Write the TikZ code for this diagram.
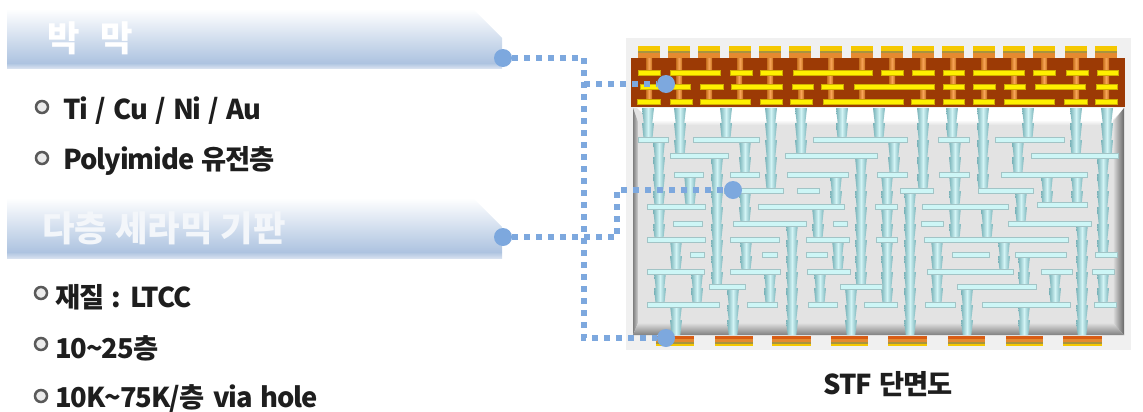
\documentclass[tikz,border=0pt]{standalone}
\usepackage{fontspec}
\setmainfont{Noto Sans CJK KR}[LetterSpace=-4, WordSpace=1.4]
\newfontfamily\bannerfont{Noto Sans CJK KR}
\usetikzlibrary{positioning, calc}
\definecolor{linkblue}{HTML}{7DA8DE}
\definecolor{bannerblue}{HTML}{ADC3E0}
\definecolor{bannerfoot}{HTML}{D6E0EF}
\definecolor{viamid}{HTML}{D2F4F5}
\definecolor{viaedge}{HTML}{78B2B8}
\definecolor{barfill}{HTML}{CDF6F6}
\definecolor{baredge}{HTML}{A2C4C6}
\definecolor{brickred}{HTML}{9C3A05}
\definecolor{metalyellow}{HTML}{FFF000}
\definecolor{metaledge}{HTML}{D0B000}
\definecolor{metalorange}{HTML}{F9A558}
\definecolor{metaldark}{HTML}{C8701E}
\definecolor{padgold}{HTML}{F5C800}
\definecolor{padolive}{HTML}{A89440}
\definecolor{padorange}{HTML}{E58A30}
\definecolor{padred}{HTML}{D85C14}
\definecolor{bodygrey}{HTML}{E3E3E3}
\definecolor{inktext}{HTML}{1E1E1E}
\def\viaLevels{{108,123,140,157,174,191,207,224,240,256,272,288,305,320,335}}

\begin{document}
\begin{tikzpicture}[
        x=0.75pt, y=-0.75pt,
        bannerbody/.style={top color=white, bottom color=bannerblue, draw=none},
        bannerbase/.style={top color=bannerblue, bottom color=bannerfoot, draw=none},
        bannertext/.style={anchor=west, inner sep=0pt, text=white, font=\bannerfont\fontsize{26.5}{30}\selectfont\bfseries},
        itemtext/.style={anchor=west, inner sep=0pt, text=inktext, font=\fontsize{20.5}{24}\selectfont\bfseries},
        itemdot/.style={circle, draw=black!65, line width=1.9pt, fill=black!8, minimum size=9pt, inner sep=0pt},
        linkdot/.style={circle, fill=linkblue, minimum size=13.5pt, inner sep=0pt},
        linkline/.style={draw=linkblue, line width=4.4pt, dash pattern=on 4.4pt off 4.6pt},
        viaseg/.style={left color=viaedge, right color=viaedge, middle color=viamid, draw=none},
        viabar/.style={fill=barfill, draw=baredge, line width=0.5pt},
        metalbar/.style={fill=metalyellow, draw=metaledge, line width=0.6pt},
        metalvia/.style={left color=metaldark, right color=metaldark, middle color=metalorange, draw=none}
    ]
    \useasboundingbox (0,0) rectangle (1143,411);

    % Banners
    \path[bannerbody] (7,9) -- (473,9) -- (502,38) -- (502,63) -- (7,63) -- cycle;
    \path[bannerbase] (7,63) rectangle (502,68);
    \path[bannerbody] (7,198) -- (473,198) -- (502,227) -- (502,252) -- (7,252) -- cycle;
    \path[bannerbase] (7,252) rectangle (502,258);
    \node[bannertext] (thinfilm) at (47,38) {박\hspace{0.6em}막};
    \node[bannertext, text=white!85!bannerblue] (ceramic) at (42,228) {다층 세라믹 기판};

    % Items
    \node[itemdot] (dotA) at (42,107) {};
    \node[itemtext] (itemA) at (63,111) {Ti / Cu / Ni / Au};
    \node[itemdot] (dotB) at (42,158) {};
    \node[itemtext] (itemB) at (63,161) {Polyimide 유전층};
    \node[itemdot] (dotC) at (41,293) {};
    \node[itemtext] (itemC) at (55,297) {재질 : LTCC};
    \node[itemdot] (dotD) at (41,344) {};
    \node[itemtext] (itemD) at (55,348) {10\textasciitilde25층};
    \node[itemdot] (dotE) at (41,396) {};
    \node[itemtext] (itemE) at (55,399) {10K\textasciitilde75K/층\hspace{0.33em}via hole};

    % Cross section body
    \fill[black!6] (626,38) rectangle (1131,350);
    \fill[bodygrey] (633,108) rectangle (1124,335);
    \fill[white] (637,108) -- (1124,108) -- (1113,120) -- (650,120) -- cycle;
    \path[top color=white, bottom color=bodygrey] (650,120) rectangle (1113,125);
    \path[left color=black!50, right color=black!18] (633,108) -- (638,122) -- (638,323) -- (633,335) -- cycle;
    \path[left color=black!12, right color=black!60] (1113,122) -- (1124,108) -- (1124,335) -- (1113,323) -- cycle;
    \path[top color=black!12, bottom color=black!50] (638,323) -- (1113,323) -- (1124,335) -- (633,335) -- cycle;

    % Ceramic vias
    \foreach \vx/\va/\vb in {648/0/2, 680/0/3, 726/0/2, 771/0/5, 801/0/3, 842/0/2, 879/0/2, 923/0/5,
        952/0/2, 983/0/5, 1028/0/2, 1076/0/3, 1107/0/3, 659/2/8, 745/2/4, 894/2/4, 955/2/8, 1018/2/4,
        717/3/11, 861/3/11, 1103/3/9, 690/4/6, 836/4/6, 887/4/12, 1047/4/6, 1077/4/6,
        745/5/7, 910/5/14, 1021/5/7, 818/6/8, 987/6/8, 792/7/14, 1082/7/14,
        676/8/10, 746/8/10, 838/8/10, 937/8/12, 1004/8/10, 1024/9/11,
        660/10/12, 697/10/12, 770/10/12, 820/10/12, 1055/10/12, 1103/10/12,
        733/11/14, 851/11/14, 967/11/14, 676/12/14, 1024/12/14} {
        \pgfmathtruncatemacro\vlast{\vb-1}
        \foreach \s in {\va,...,\vlast} {
            \pgfmathsetmacro\ytop{\viaLevels[\s]}
            \pgfmathsetmacro\ybot{\viaLevels[\s+1]}
            \path[viaseg] (\vx-6,\ytop) -- (\vx+6,\ytop) -- (\vx+4.3,\ybot) -- (\vx-4.3,\ybot) -- cycle;
        }
    }

    % Ceramic bars
    \foreach \by/\bl in {
        140/{638/668, 693/759, 813/907, 938/969, 995/1064},
        156/{670/728, 785/877, 1031/1118},
        175/{674/703, 730/759, 787/848, 877/907, 939/969, 1001/1087},
        191/{724/783, 797/819, 900/933, 978/1033},
        207/{647/705, 758/844, 875/897, 922/1008},
        205/{1037/1087},
        224/{673/702, 733/806, 833/847, 921/943, 1008/1091},
        240/{647/705, 730/779, 806/849, 876/897, 924/1068},
        255/{690/704, 762/777, 806/827, 952/989, 1015/1066, 1095/1117},
        272/{647/704, 730/780, 807/850, 927/1013, 1041/1072, 1092/1114},
        287/{709/745, 840/882, 957/1036},
        305/{647/719, 747/777, 808/837, 864/897, 925/955, 982/1070, 1094/1116}} {
        \foreach \xa/\xb in \bl {
            \path[viabar] (\xa,\by-2.5) rectangle (\xb,\by+2.5);
        }
    }

    % Thin film layer
    \fill[brickred] (631,58) rectangle (1125,107);
    \foreach \px in {649,679,709,740,770,800,831,862,892,923,953,984,1014,1044,1076,1106} {
        \fill[padorange] (\px-11,53) rectangle (\px+11,58);
        \fill[padolive] (\px-11,51) rectangle (\px+11,53);
        \fill[padgold] (\px-11,46) rectangle (\px+11,51);
        \path[metalvia] (\px-3,58) rectangle (\px+3,72);
    }
    \foreach \px in {679,739,770,830,892,953,1014,1044,1076,1106} {
        \path[metalvia] (\px-3,73) rectangle (\px+3,86);
    }
    \foreach \px in {649,679,709,740,770,801,831,862,923,953,984,1014,1076,1106} {
        \path[metalvia] (\px-3,88) rectangle (\px+3,101);
    }
    \foreach \by/\bl in {
        73/{638/660, 670/720, 730/752, 760/782, 793/872, 881/903, 912/934, 943/964, 973/1024, 1033/1055, 1066/1088, 1097/1118},
        87/{640/660, 670/690, 700/723, 731/782, 792/813, 821/843, 854/934, 943/964, 973/995, 1004/1025, 1035/1085, 1096/1117},
        102/{637/660, 670/692, 700/750, 760/782, 790/812, 823/903, 911/934, 943/964, 973/994, 1004/1054, 1064/1087, 1095/1117}} {
        \foreach \xa/\xb in \bl {
            \path[metalbar] (\xa,\by-2.3) rectangle (\xb,\by+2.3);
        }
    }

    % Bottom pads
    \foreach \xa/\xb in {656/694, 715/753, 772/811, 831/868, 888/927, 948/985, 1006/1043, 1063/1102} {
        \fill[padred] (\xa,336) rectangle (\xb,339);
        \fill[padorange] (\xa,339) rectangle (\xb,342);
        \fill[padolive] (\xa,342) rectangle (\xb,344);
        \fill[padgold] (\xa,344) rectangle (\xb,345.5);
    }

    % Links
    \node[linkdot] (portfilm) at (503,58) {};
    \node[linkdot] (portceramic) at (503,237) {};
    \node[linkdot] (tipfilm) at (666,84) {};
    \node[linkdot] (tipbody) at (733,190) {};
    \node[linkdot] (tippad) at (666,338) {};
    \coordinate (bendA) at (584,58);
    \coordinate (bendB) at (584,84);
    \coordinate (bendC) at (584,338);
    \coordinate (bendD) at (617,237);
    \coordinate (bendE) at (617,190);
    \draw[linkline] (portfilm) -- (bendA) -- (bendC) -- (tippad);
    \draw[linkline] (bendB) -- (tipfilm);
    \draw[linkline] (portceramic) -- (bendD) -- (bendE) -- (tipbody);

    % Caption
    \node[itemtext, anchor=center] (caption) at (888,384) {STF 단면도};
\end{tikzpicture}
\end{document}
